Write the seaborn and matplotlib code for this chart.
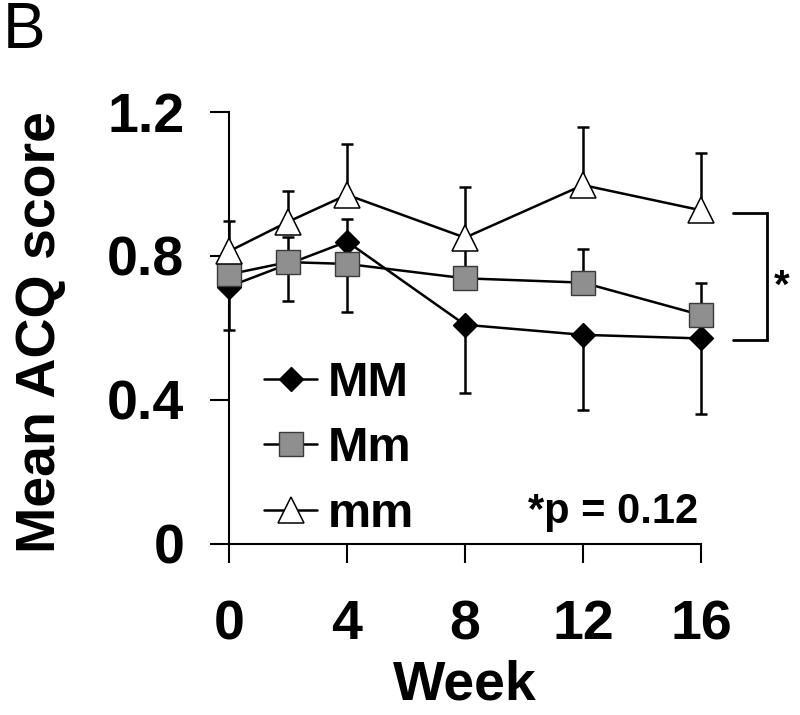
import numpy as np
import pandas as pd
import matplotlib
matplotlib.use("Agg")
import matplotlib.pyplot as plt
import seaborn as sns

# ---- data ----
weeks_MM = [0, 4, 8, 12, 16]
score_MM = [0.715, 0.840, 0.609, 0.581, 0.571]
err_lo_MM = [0.120, 0.000, 0.190, 0.210, 0.210]
err_hi_MM = [0.000, 0.063, 0.000, 0.000, 0.000]

weeks_Mm = [0, 2, 4, 8, 12, 16]
score_Mm = [0.749, 0.783, 0.778, 0.738, 0.726, 0.636]
err_lo_Mm = [0.000, 0.109, 0.133, 0.000, 0.000, 0.000]
err_hi_Mm = [0.000, 0.069, 0.000, 0.090, 0.093, 0.090]

weeks_mm = [0, 2, 4, 8, 12, 16]
score_mm = [0.813, 0.895, 0.970, 0.851, 0.997, 0.927]
err_lo_mm = [0.000, 0.000, 0.000, 0.000, 0.000, 0.000]
err_hi_mm = [0.085, 0.086, 0.140, 0.140, 0.160, 0.160]

x_ticks = [0, 4, 8, 12, 16]
x_ticklabels = ["0", "4", "8", "12", "16"]
y_ticks = [0, 0.4, 0.8, 1.2]
y_ticklabels = ["0", "0.4", "0.8", "1.2"]

sns.set_style("ticks")
plt.rcParams["font.family"] = ["Liberation Sans", "DejaVu Sans"]
plt.rcParams["font.weight"] = "bold"
for key in ["text.color", "axes.labelcolor", "xtick.color", "ytick.color",
            "xtick.labelcolor", "ytick.labelcolor"]:
    plt.rcParams[key] = "black"

fig = plt.figure(figsize=(8, 7.15), dpi=100)
ax = fig.add_axes([229 / 800, 1 - 544 / 715, 472 / 800, 432 / 715])

series = [
    ("MM", weeks_MM, score_MM, err_lo_MM, err_hi_MM, "D", 12.7, "black", "black", 1.0),
    ("Mm", weeks_Mm, score_Mm, err_lo_Mm, err_hi_Mm, "s", 17.5, "#8f8f8f", "#3a3a3a", 1.0),
    ("mm", weeks_mm, score_mm, err_lo_mm, err_hi_mm, "^", 18.5, "white", "black", 1.1),
]

for i, (name, wk, sc, lo, hi, mk, ms, fc, ec, mew) in enumerate(series):
    df = pd.DataFrame({"week": wk, "score": sc})
    ax.errorbar(wk, sc, yerr=[lo, hi], fmt="none", ecolor="black",
                elinewidth=1.8, capsize=4.3, capthick=1.8, zorder=1, clip_on=False)
    sns.lineplot(data=df, x="week", y="score", ax=ax, color="black", lw=1.8,
                 marker=mk, markersize=ms, markerfacecolor=fc, markeredgecolor=ec,
                 markeredgewidth=mew, label=name, errorbar=None, clip_on=False,
                 zorder=3 + 0.1 * i)

ax.set_xlim(0, 16)
ax.set_ylim(0, 1.2)
ax.set_xticks(x_ticks)
ax.set_xticklabels(x_ticklabels)
ax.set_yticks(y_ticks)
ax.set_yticklabels(y_ticklabels)
sns.despine(ax=ax)
for s in ["left", "bottom"]:
    ax.spines[s].set_linewidth(1.5)
    ax.spines[s].set_color("black")
ax.tick_params(axis="both", direction="out", length=13.7, width=1.5, color="black",
               labelcolor="black", labelsize=40)
ax.tick_params(axis="x", pad=26)
ax.tick_params(axis="y", pad=18.5)
for t in ax.get_xticklabels() + ax.get_yticklabels():
    t.set_fontweight("bold")

ax.set_xlabel("Week", fontsize=40, fontweight="bold", labelpad=6, color="black")
ax.set_ylabel("Mean ACQ score", fontsize=40, fontweight="bold", color="black")
ax.yaxis.set_label_coords(-0.343, 0.49)

# legend
leg = ax.legend(loc="upper left", bbox_to_anchor=(264 / 800, 1 - 361 / 715),
                bbox_transform=fig.transFigure, frameon=False, fontsize=35,
                handlelength=1.1, handletextpad=0.22, labelspacing=0.42,
                borderpad=0, borderaxespad=0, numpoints=1)
for t in leg.get_texts():
    t.set_fontweight("bold")
    t.set_color("black")

# significance bracket
bx0, bx1 = 17.08, 18.24
by_top, by_bot = 0.919, 0.567
ax.plot([bx0, bx1, bx1, bx0], [by_top, by_top, by_bot, by_bot], color="black",
        lw=2.0, clip_on=False, solid_joinstyle="miter")
ax.text(18.75, 0.714, "*", fontsize=29, fontweight="bold", ha="center", va="center")
ax.text(10.15, 0.058, "*p = 0.12", fontsize=30, fontweight="bold", ha="left",
        va="baseline")

fig.text(3 / 800, 0.998, "B", fontsize=46, fontweight="normal", ha="left", va="top")

fig.savefig("out.png", dpi=100)
